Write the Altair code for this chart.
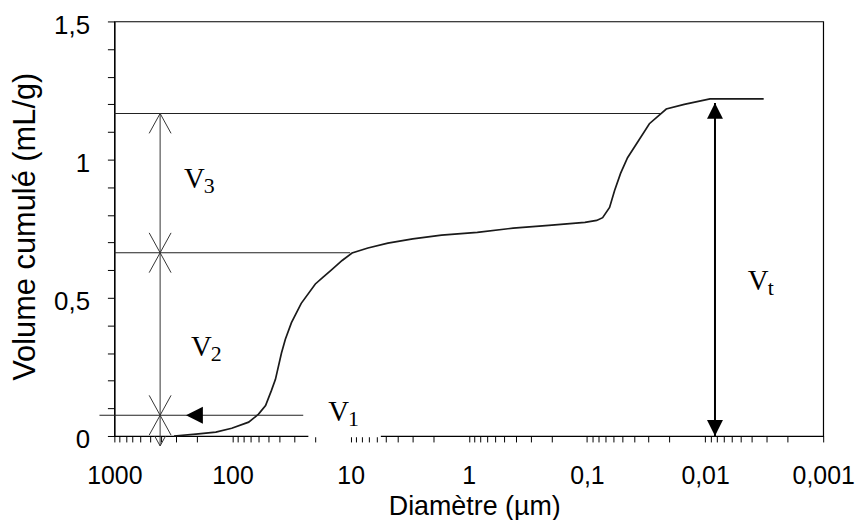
import altair as alt
import pandas as pd

# ---- data ----
diam = [312.6, 204, 138.4, 101.5, 73.0, 60.2, 52.5, 46.8, 43.3, 38.5, 35.7, 31.7,
        26.2, 19.9, 17.1, 14.6, 11.8, 9.73, 7.14, 4.84, 2.98, 1.70, 0.847, 0.421,
        0.210, 0.104, 0.0827, 0.0736, 0.0643, 0.0583, 0.0519, 0.0453, 0.0366,
        0.0296, 0.0213, 0.0150, 0.00908, 0.00319]
vol = [0.0, 0.007, 0.014, 0.028, 0.05, 0.079, 0.11, 0.165, 0.205, 0.30, 0.35, 0.41,
       0.48, 0.55, 0.575, 0.60, 0.635, 0.662, 0.68, 0.698, 0.713, 0.727, 0.737, 0.752,
       0.762, 0.773, 0.78, 0.79, 0.827, 0.888, 0.95, 1.007, 1.068, 1.13, 1.183, 1.20,
       1.22, 1.22]

x_major = [1000, 100, 10, 1, 0.1, 0.01, 0.001]
x_labels = ["1000", "100", "10", "1", "0,1", "0,01", "0,001"]
x_minor = [m * 10.0 ** e for e in range(-3, 3) for m in range(2, 10)]
y_ticks = [round(i * 0.1, 1) for i in range(16)]
y_major = [0, 0.5, 1, 1.5]
y_labels = ["0", "0,5", "1", "1,5"]

# annotation data
hl_v = [1.167, 0.663, 0.075]
hl_from = [1000, 1000, 1337]
hl_to = [0.0239, 10.1, 25.2]

arrow_d = 410          # thin vertical arrow position (diameter)
arrow_top = 1.167
arrow_bottom = -0.036
up_heads = [1.167, 0.663, 0.075]
down_heads = [0.663, 0.075]

vt_d = 0.00824
vt_bottom = 0.0
vt_top = 1.205

left_tri_d = 247.6
left_tri_v = 0.075

gap_d = [22.8, 5.55]
gap_v = [-0.005, 0.004]

lab_d = [257.5, 224.8, 15.5, 0.00435]
lab_v = [0.896, 0.288, 0.054, 0.529]
lab_sub = ["3", "2", "1", "t"]

# ---- scales / axes ----
xscale = alt.Scale(type="log", domain=[0.001, 1000], reverse=True, nice=False)
yscale = alt.Scale(domain=[0, 1.5], nice=False, zero=False)

x_expr = " : ".join(f"datum.value == {t} ? '{l}'" for t, l in zip(x_major, x_labels)) + " : ''"
y_expr = " : ".join(f"datum.value == {t} ? '{l}'" for t, l in zip(y_major, y_labels)) + " : ''"

FONT = "Liberation Sans"
xaxis = alt.Axis(values=x_major + x_minor, labelExpr=x_expr, grid=False, tickSize=6,
                 labelPadding=22, labelFont=FONT, labelFontSize=25, labelColor="black",
                 labelAngle=0, labelOverlap=False, labelFlush=False,
                 domainColor="black", tickColor="black", domainWidth=1.2,
                 title="Diamètre (µm)", titleFont=FONT, titleFontSize=27,
                 titleFontWeight="normal", titleColor="black", titleX=362, titleY=79,
                 titleBaseline="alphabetic", titleAlign="center")
yaxis = alt.Axis(values=y_ticks, labelExpr=y_expr, grid=False, tickSize=7,
                 labelPadding=18, labelFont=FONT, labelFontSize=26, labelColor="black",
                 labelOverlap=False, labelOffset=4, labelFlush=False,
                 domainColor="black", tickColor="black", domainWidth=1.2,
                 title="Volume cumulé (mL/g)", titleFont=FONT, titleFontSize=31,
                 titleFontWeight="normal", titleColor="black", titleX=-89, titleY=206,
                 titleAngle=270, titleAlign="center", titleBaseline="middle")


def X(f):
    return alt.X(f, type="quantitative", scale=xscale, axis=xaxis)


def Y(f):
    return alt.Y(f, type="quantitative", scale=yscale, axis=yaxis)


curve_df = pd.DataFrame({"d": diam, "v": vol})
curve = alt.Chart(curve_df).mark_line(color="#1a1a1a", strokeWidth=1.7, clip=False).encode(
    x=X("d"), y=Y("v"))

gap = alt.Chart(pd.DataFrame({"a": [gap_d[0]], "b": [gap_d[1]], "v1": [gap_v[0]], "v2": [gap_v[1]]})
                ).mark_rect(color="white", clip=False).encode(
    x=X("a"), x2="b", y=Y("v1"), y2="v2")

hl = alt.Chart(pd.DataFrame({"a": hl_from, "b": hl_to, "v": hl_v})).mark_rule(
    color="#222", strokeWidth=1.1, clip=False).encode(x=X("a"), x2="b", y=Y("v"))

vline = alt.Chart(pd.DataFrame({"d": [arrow_d], "v1": [arrow_top], "v2": [arrow_bottom]})).mark_rule(
    color="#333", strokeWidth=1, clip=False).encode(x=X("d"), y=Y("v1"), y2="v2")

up = alt.Chart(pd.DataFrame({"d": [arrow_d] * len(up_heads), "v": up_heads})).mark_point(
    shape="M-0.55,1L0,0L0.55,1", size=1600, filled=False, stroke="#333", strokeWidth=1,
    opacity=1, clip=False).encode(x=X("d"), y=Y("v"))

down = alt.Chart(pd.DataFrame({"d": [arrow_d] * len(down_heads), "v": down_heads})).mark_point(
    shape="M-0.55,-1L0,0L0.55,-1", size=1600, filled=False, stroke="#333", strokeWidth=1,
    opacity=1, clip=False).encode(x=X("d"), y=Y("v"))

down_small = alt.Chart(pd.DataFrame({"d": [arrow_d], "v": [arrow_bottom]})).mark_point(
    shape="M-0.55,-1L0,0L0.55,-1", size=400, filled=False, stroke="#333", strokeWidth=1,
    opacity=1, clip=False).encode(x=X("d"), y=Y("v"))

vt = alt.Chart(pd.DataFrame({"d": [vt_d], "v1": [vt_bottom], "v2": [vt_top]})).mark_rule(
    color="black", strokeWidth=2, clip=False).encode(x=X("d"), y=Y("v1"), y2="v2")

vt_up = alt.Chart(pd.DataFrame({"d": [vt_d], "v": [vt_top]})).mark_point(
    shape="M0,0L-0.5,1L0.5,1Z", size=1024, filled=True, fill="black", strokeWidth=0,
    opacity=1, clip=False).encode(x=X("d"), y=Y("v"))

vt_down = alt.Chart(pd.DataFrame({"d": [vt_d], "v": [vt_bottom]})).mark_point(
    shape="M0,0L-0.5,-1L0.5,-1Z", size=1024, filled=True, fill="black", strokeWidth=0,
    opacity=1, clip=False).encode(x=X("d"), y=Y("v"))

left_tri = alt.Chart(pd.DataFrame({"d": [left_tri_d], "v": [left_tri_v]})).mark_point(
    shape="M0,0L1,-0.5L1,0.5Z", size=1156, filled=True, fill="black", strokeWidth=0,
    opacity=1, clip=False).encode(x=X("d"), y=Y("v"))

lab_df = pd.DataFrame({"d": lab_d, "v": lab_v, "main": ["V"] * 4, "sub": lab_sub})
lab_main = alt.Chart(lab_df).mark_text(font="Liberation Serif", fontSize=29, align="left",
                                       baseline="alphabetic", color="black", clip=False).encode(
    x=X("d"), y=Y("v"), text="main:N")
lab_subs = alt.Chart(lab_df).mark_text(font="Liberation Serif", fontSize=22, align="left",
                                       baseline="alphabetic", color="black", dx=20, dy=5,
                                       clip=False).encode(
    x=X("d"), y=Y("v"), text="sub:N")

chart = alt.layer(curve, gap, hl, vline, up, down, down_small, vt, vt_up, vt_down, left_tri,
                  lab_main, lab_subs).properties(
    width=713, height=417,
    autosize=alt.AutoSizeParams(type="none"),
    padding={"left": 107, "top": 12, "right": 32, "bottom": 83},
    background="white",
).configure_view(stroke="black", strokeWidth=1.2)

chart.save("out.html", embed_options={"renderer": "svg", "actions": False})
